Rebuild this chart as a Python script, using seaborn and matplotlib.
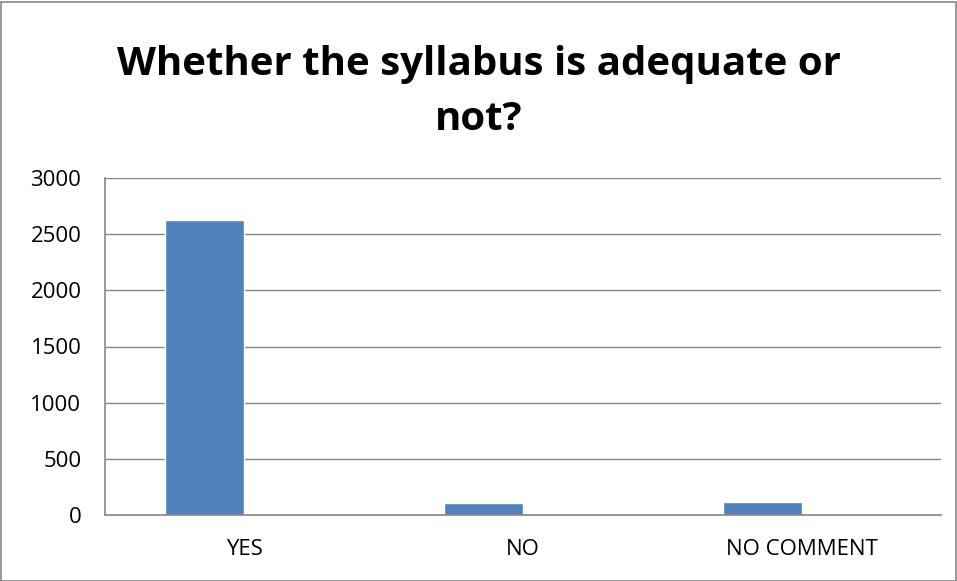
import matplotlib
matplotlib.use("Agg")
import matplotlib.pyplot as plt
import seaborn as sns
import pandas as pd
from matplotlib.patches import Rectangle

categories = ['YES', 'NO', 'NO COMMENT']
responses = [2625, 105, 115]
yticks = [0, 500, 1000, 1500, 2000, 2500, 3000]
title = 'Whether the syllabus is adequate or\nnot?'

# Excel style: second (empty) series makes the bar sit left of the slot centre
df = pd.DataFrame({
    'category': categories * 2,
    'value': responses + [float('nan')] * len(categories),
    'series': ['Series1'] * len(categories) + ['Series2'] * len(categories),
})

sns.set_style('white')
plt.rcParams['font.family'] = ['Open Sans', 'DejaVu Sans']

fig = plt.figure(figsize=(9.57, 5.81), dpi=100)
ax = fig.add_axes([105 / 957, 1 - 515 / 581, (941 - 105) / 957, (515 - 178) / 581])

sns.barplot(data=df, x='category', y='value', hue='series', order=categories,
            palette=['#4f81bd', '#c0504d'], width=0.566, dodge=True,
            legend=False, ax=ax, saturation=1)

ax.set_xlim(-0.5, 2.5)
ax.set_ylim(0, 3000)
ax.set_yticks(yticks)
ax.set_yticklabels([str(t) for t in yticks], fontsize=16, color='black')
ax.tick_params(axis='x', labelsize=16, labelcolor='black', length=0, pad=17)
ax.tick_params(axis='y', length=0, pad=17)
ax.yaxis.grid(True, color='#868686', linewidth=1)
ax.set_axisbelow(True)
for s in ['top', 'right']:
    ax.spines[s].set_visible(False)
for s in ['left', 'bottom']:
    ax.spines[s].set_color('#868686')
    ax.spines[s].set_linewidth(1.2)
ax.set_xlabel('')
ax.set_ylabel('')

fig.text(0.5, 1 - 92 / 581, title, ha='center', va='center', fontsize=29,
         fontweight='bold', linespacing=1.5, color='black')

fig.patches.append(Rectangle((0.5 / 957, 0.5 / 581), 955 / 957, 579 / 581,
                             transform=fig.transFigure, fill=False,
                             edgecolor='#868686', linewidth=1.2))

fig.savefig('out.png', dpi=100)
